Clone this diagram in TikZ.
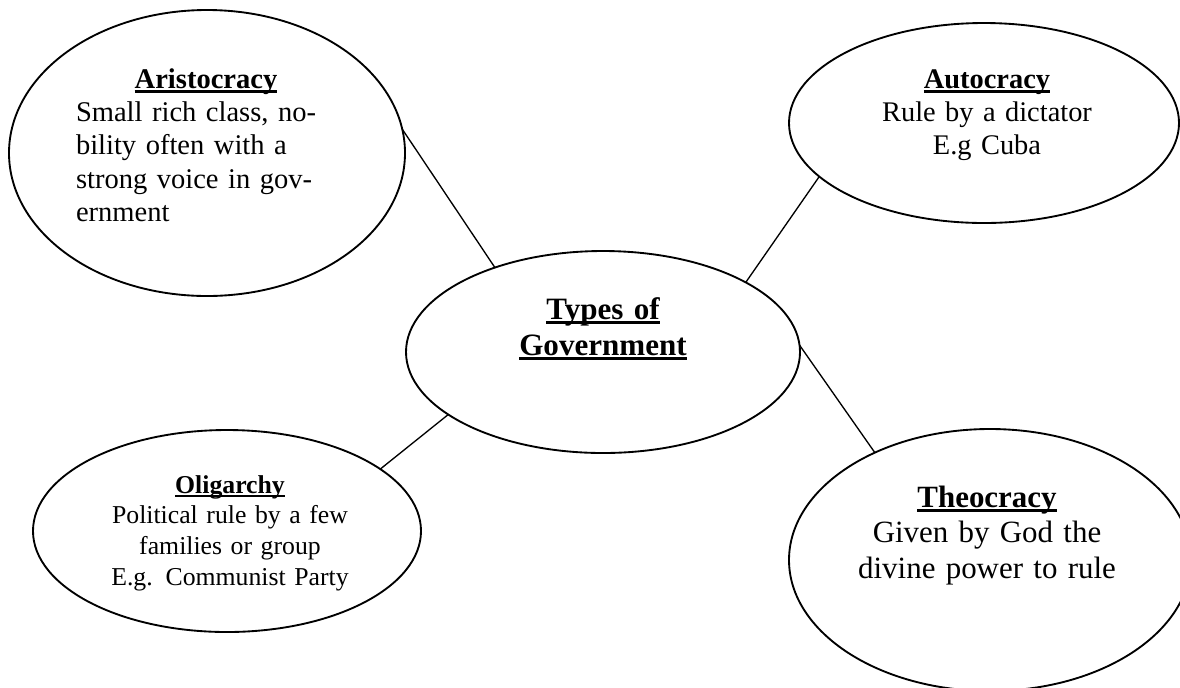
\documentclass[tikz,border=0pt]{standalone}
\usepackage{fontspec}
\setmainfont{Liberation Serif}
\usetikzlibrary{shapes.geometric}
\newcommand\myul[1]{\leavevmode\setbox0=\hbox{#1}\rlap{\vrule height -0.07em depth 0.16em width\wd0}\box0}
\begin{document}
\begin{tikzpicture}[x=0.75pt,y=-0.75pt,
  bub/.style={ellipse,draw,line width=1.4pt,inner sep=0pt,outer sep=0pt},
  link/.style={line width=1pt},
  txt/.style={anchor=base,inner sep=0pt,align=center,text width=240pt}]
\useasboundingbox (0,0) rectangle (1180,687);
\fill[white] (0,0) rectangle (1180,687);
% bubbles
\node[bub, minimum width=297pt, minimum height=214.5pt] (arist) at (207,153) {};
\node[bub, minimum width=292.5pt, minimum height=150pt] (auto) at (984,123) {};
\node[bub, minimum width=295.5pt, minimum height=151.5pt] (gov) at (603,352) {};
\node[bub, minimum width=291pt, minimum height=151.5pt] (olig) at (227,531) {};
\node[bub, minimum width=301.5pt, minimum height=196.5pt] (theo) at (990,560) {};
% texts
\node[txt, text width=195pt, align=left, font=\fontsize{21.4}{25.1}\selectfont] (aristT) at (206,88)
  {\makebox[195pt][c]{\myul{\textbf{Aristocracy}}}\\Small rich class, no-\\bility often with a\\strong voice in gov-\\ernment};
\node[txt, font=\fontsize{21.3}{25.1}\selectfont] (autoT) at (987,88)
  {\myul{\textbf{Autocracy}}\\Rule by a dictator\\E.g Cuba};
\node[txt, font=\fontsize{23.3}{27}\selectfont\bfseries] (govT) at (603,319)
  {\myul{Types of}\\\myul{Government}};
\node[txt, font=\fontsize{19.3}{23}\selectfont] (oligT) at (230,493)
  {\myul{\textbf{Oligarchy}}\\Political rule by a few\\families or group\\E.g. Communist Party};
\node[txt, font=\fontsize{23.2}{26.8}\selectfont] (theoT) at (987,507)
  {\myul{\textbf{Theocracy}}\\Given by God the\\divine power to rule};
% connectors
\draw[link] (arist.7) -- (gov.142);
\draw[link] (auto.198) -- (gov.26);
\draw[link] (gov.2) -- (theo.137.6);
\draw[link] (gov.202) -- (olig.22);
\end{tikzpicture}
\end{document}
